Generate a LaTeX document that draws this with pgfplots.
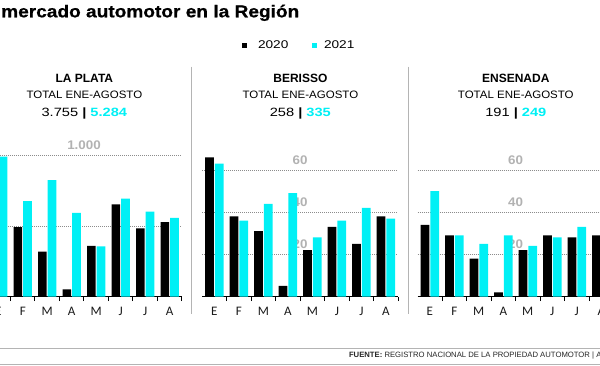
\documentclass[border=0pt]{standalone}
\usepackage{fontspec}
\setmainfont{Liberation Sans}
\newfontfamily\hdrfont{Liberation Sans}[FakeStretch=1.07]
\newfontfamily\numfont{Liberation Sans}[FakeStretch=1.22]
\newfontfamily\titlefont{Liberation Sans}[FakeStretch=1.11, BoldFeatures={FakeBold=0.7}]
\newfontfamily\catfont{Carlito}
\usepackage{pgfplots}
\pgfplotsset{compat=1.18}
\definecolor{cy}{HTML}{00F0F5}
\definecolor{gridgray}{HTML}{8C8C8C}
\definecolor{lblgray}{HTML}{B2B2B2}
\definecolor{divgray}{HTML}{B4B4B4}

\pgfplotsset{panel/.style={
  scale only axis, width=196pt,
  xmin=-0.5, xmax=7.5, ymin=0,
  anchor=south west,
  axis x line*=bottom, axis y line*=left,
  y axis line style={draw=none},
  x axis line style={line width=1.4pt, black},
  xtick={0,1,2,3,4,5,6,7}, xticklabels={E,F,M,A,M,J,J,A},
  extra x ticks={0.5,1.5,2.5,3.5,4.5,5.5,6.5,7.5},
  extra x tick labels={},
  extra x tick style={major tick length=4.5pt, tick style={draw=black, line width=1pt}},
  major tick length=0pt,
  tick align=inside,
  yticklabels={},
  ymajorgrids, grid style={gridgray, line width=0.6pt, dash pattern=on 0.7pt off 1.3pt},
  xticklabel style={font=\catfont\fontsize{13}{13}\selectfont, text=black!90, anchor=base, yshift=-18.5pt},
  ybar, bar width=8.7pt, clip=false,
}}

\tikzset{glabel/.style={font=\hdrfont\bfseries\fontsize{12.5}{12.5}\selectfont, text=lblgray, anchor=base, inner sep=0pt}}

\begin{document}
\begin{tikzpicture}[x=1pt,y=1pt]

% title
\node[anchor=base west, inner sep=0pt, font=\titlefont\bfseries\fontsize{17.2}{17.2}\selectfont] at (1,347.7) {mercado automotor en la Región};

% legend
\fill[black] (241.7,316.7) rectangle (247.3,322.3);
\node[anchor=base west, inner sep=0pt, font=\numfont\fontsize{11.2}{11.2}\selectfont] at (257.8,316) {2020};
\fill[cy] (311.7,316.7) rectangle (317.3,322.3);
\node[anchor=base west, inner sep=0pt, font=\numfont\fontsize{11.2}{11.2}\selectfont] at (323.8,316) {2021};

% headers
\node[anchor=base, inner sep=0pt, font=\bfseries\fontsize{12}{12}\selectfont] at (84.35,282.3) {LA PLATA};
\node[anchor=base, inner sep=0pt, font=\hdrfont\fontsize{10.75}{10.75}\selectfont] at (84.35,266) {TOTAL ENE-AGOSTO};
\node[anchor=base, inner sep=0pt, font=\numfont\fontsize{12}{12}\selectfont] at (84.35,249) {3.755 \textbf{|} \textcolor{cy}{\textbf{5.284}}};

\node[anchor=base, inner sep=0pt, font=\bfseries\fontsize{12}{12}\selectfont] at (300.35,282.3) {BERISSO};
\node[anchor=base, inner sep=0pt, font=\hdrfont\fontsize{10.75}{10.75}\selectfont] at (300.35,266) {TOTAL ENE-AGOSTO};
\node[anchor=base, inner sep=0pt, font=\numfont\fontsize{12}{12}\selectfont] at (300.35,249) {258 \textbf{|} \textcolor{cy}{\textbf{335}}};

\node[anchor=base, inner sep=0pt, font=\bfseries\fontsize{12}{12}\selectfont] at (515.8,282.3) {ENSENADA};
\node[anchor=base, inner sep=0pt, font=\hdrfont\fontsize{10.75}{10.75}\selectfont] at (515.8,266) {TOTAL ENE-AGOSTO};
\node[anchor=base, inner sep=0pt, font=\numfont\fontsize{12}{12}\selectfont] at (515.8,249) {191 \textbf{|} \textcolor{cy}{\textbf{249}}};

% dividers
\draw[divgray, line width=1.6pt] (191.5,298.3) -- (191.5,51);
\draw[divgray, line width=1.6pt] (408.3,298.3) -- (408.3,51);

% La Plata
\begin{axis}[panel, at={(-14pt,68.5pt)}, height=155.43pt, ymax=1100, ytick={500,1000}]
\node[glabel, yshift=6pt] at (axis cs:3.5,1000) {1.000};
\addplot[fill=black, draw=none, bar shift=-4.85pt] coordinates {(0,877) (1,491) (2,317) (3,50) (4,359) (5,652) (6,482) (7,527)};
\addplot[fill=cy, draw=none, bar shift=4.85pt] coordinates {(0,990) (1,675) (2,823) (3,591) (4,355) (5,693) (6,601) (7,556)};
\end{axis}

% Berisso
\begin{axis}[panel, at={(202.1pt,68.5pt)}, height=147.56pt, ymax=70, ytick={20,40,60}]
\node[glabel, yshift=5.5pt] at (axis cs:3.5,60) {60};
\node[glabel, yshift=5.5pt] at (axis cs:3.5,40) {40};
\node[glabel, yshift=5.5pt] at (axis cs:3.5,20) {20};
\addplot[fill=black, draw=none, bar shift=-4.85pt] coordinates {(0,66) (1,38) (2,31) (3,5) (4,22) (5,33) (6,25) (7,38)};
\addplot[fill=cy, draw=none, bar shift=4.85pt] coordinates {(0,63) (1,36) (2,44) (3,49) (4,28) (5,36) (6,42) (7,37)};
\end{axis}

% Ensenada
\begin{axis}[panel, at={(417.55pt,68.5pt)}, height=147.56pt, ymax=70, ytick={20,40,60}]
\node[glabel, yshift=5.5pt] at (axis cs:3.5,60) {60};
\node[glabel, yshift=5.5pt] at (axis cs:3.5,40) {40};
\node[glabel, yshift=5.5pt] at (axis cs:3.5,20) {20};
\addplot[fill=black, draw=none, bar shift=-4.85pt] coordinates {(0,34) (1,29) (2,18) (3,2) (4,22) (5,29) (6,28) (7,29)};
\addplot[fill=cy, draw=none, bar shift=4.85pt] coordinates {(0,50) (1,29) (2,25) (3,29) (4,24) (5,28) (6,33) (7,31)};
\end{axis}

% footer
\draw[divgray, line width=1pt] (0,16.7) -- (600,16.7);
\draw[divgray, line width=1pt] (0,1) -- (600,1);
\node[anchor=base west, inner sep=0pt, font=\fontsize{7.7}{7.7}\selectfont, text=black!85] at (348.8,7.7) {\textbf{FUENTE:} REGISTRO NACIONAL DE LA PROPIEDAD AUTOMOTOR | A};

\pgfresetboundingbox
\path[use as bounding box] (0,0) rectangle (600,365);
\end{tikzpicture}
\end{document}
